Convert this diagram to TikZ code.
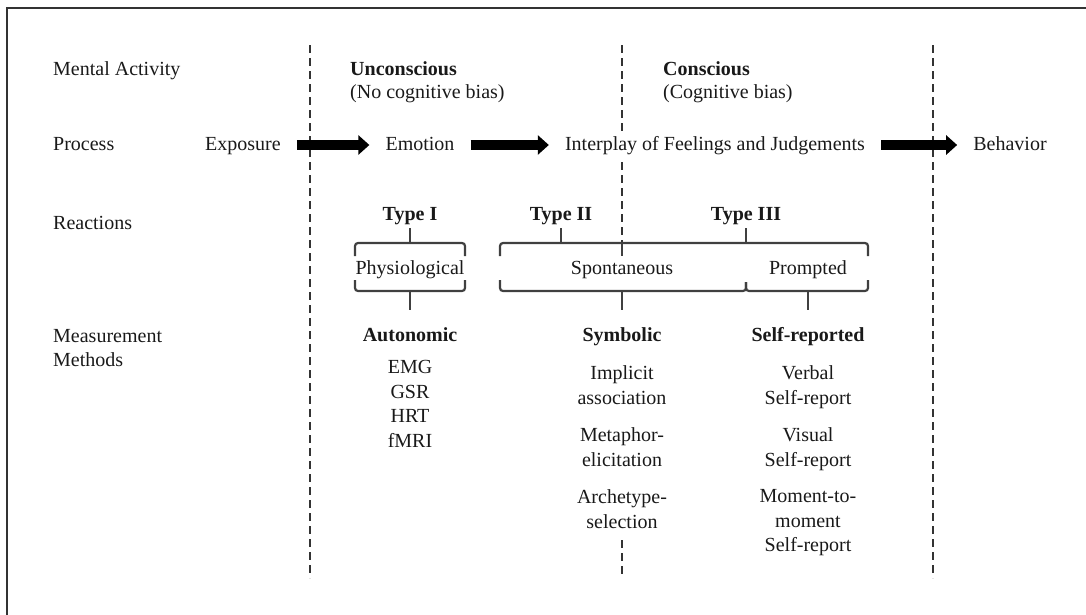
\documentclass[tikz,border=0pt]{standalone}
\usepackage{fontspec}
\setmainfont{Liberation Serif}
\usetikzlibrary{arrows.meta}

\begin{document}
\begin{tikzpicture}[x=1pt, y=-1pt,
        word/.style={inner sep=0pt, text=black!90, text height=14pt, text depth=4pt,
                     font=\fontsize{20}{24.5}\selectfont},
        head/.style={word, font=\fontsize{20}{24.5}\selectfont\bfseries},
        col/.style={inner sep=0pt, text=black!90, align=center,
                    font=\fontsize{20}{24.5}\selectfont},
        sep/.style={draw=black!80, line width=2pt, dash pattern=on 8pt off 5pt},
        brace/.style={draw=black!75, line width=2.2pt, rounded corners=3pt},
        flow/.style={line width=10pt, -{Triangle[length=11pt, width=19pt]},
                     shorten <=16pt, shorten >=16pt}]
    \useasboundingbox (0,0) rectangle (1086,614);
    \clip (0,0) rectangle (1086,614);
    \draw[line width=2pt, black!80] (7,8) rectangle (1100,630);

    % dividers
    \draw[sep] (310,45) -- (310,578);
    \draw[sep] (933,45) -- (933,578);
    \draw[sep] (622,45) -- (622,243);
    \draw[sep] (622,540) -- (622,578);

    % row labels
    \node[word, anchor=west] (mental) at (53,70) {Mental Activity};
    \node[word, anchor=west] (process) at (53,145) {Process};
    \node[word, anchor=west] (reactions) at (53,224) {Reactions};
    \node[col, anchor=west, align=left] (methods) at (53,348) {Measurement\\Methods};

    % mental activity
    \node[head, anchor=west] (uncon) at (350,70) {Unconscious};
    \node[word, anchor=west] (nobias) at (350,93) {(No cognitive bias)};
    \node[head, anchor=west] (con) at (663,70) {Conscious};
    \node[word, anchor=west] (bias) at (663,93) {(Cognitive bias)};

    % process
    \node[word] (expo) at (243,145) {Exposure};
    \node[word] (emo) at (420,145) {Emotion};
    \node[word, fill=white, inner ysep=4pt] (inter) at (715,145) {Interplay of Feelings and Judgements};
    \node[word] (behav) at (1010,145) {Behavior};
    \draw[flow] (expo.east) -- (expo.east -| emo.west);
    \draw[flow] (emo.east) -- (emo.east -| inter.west);
    \draw[flow] (inter.east) -- (inter.east -| behav.west);

    % reactions
    \node[head] (typeI) at (410,215) {Type I};
    \node[head] (typeII) at (561,215) {Type II};
    \node[head] (typeIII) at (746,215) {Type III};
    \node[word] (phys) at (410,269) {Physiological};
    \node[word] (spont) at (622,269) {Spontaneous};
    \node[word] (prompt) at (808,269) {Prompted};

    \coordinate (physTop) at (410,243);
    \coordinate (physBot) at (410,291);
    \coordinate (spontTop) at (622,243);
    \coordinate (spontBot) at (622,291);
    \coordinate (twoTop) at (561,243);
    \coordinate (threeTop) at (746,243);
    \coordinate (promptBot) at (808,291);

    \draw[brace] (355,256) |- (physTop) -| (465,256);
    \draw[brace] (355,280) |- (physBot) -| (465,280);
    \draw[brace] (500,256) |- (spontTop) -| (868,256);
    \draw[brace] (spontTop) -- (622,256);
    \draw[brace] (500,280) |- (spontBot) -| (746,282);
    \draw[brace] (746,282) |- (promptBot) -| (868,280);
    \draw[brace, shorten >=4pt] (physTop) -- (typeI);
    \draw[brace, shorten >=4pt] (twoTop) -- (typeII);
    \draw[brace, shorten >=4pt] (threeTop) -- (typeIII);

    % measurement methods
    \node[head] (auto) at (410,336) {Autonomic};
    \node[head] (symb) at (622,336) {Symbolic};
    \node[head] (self) at (808,336) {Self-reported};
    \draw[brace, shorten >=17pt] (physBot) -- (auto);
    \draw[brace, shorten >=17pt] (spontBot) -- (symb);
    \draw[brace, shorten >=17pt] (promptBot) -- (self);

    \node[col] (physlist) at (410,404) {EMG\\GSR\\HRT\\fMRI};
    \node[col] (impl) at (622,385) {Implicit\\association};
    \node[col] (meta) at (622,447) {Metaphor-\\elicitation};
    \node[col] (arch) at (622,509) {Archetype-\\selection};
    \node[col] (verbal) at (808,387) {Verbal\\Self-report};
    \node[col] (visual) at (808,449) {Visual\\Self-report};
    \node[col] (moment) at (808,523) {Moment-to-\\moment\\Self-report};
\end{tikzpicture}
\end{document}
